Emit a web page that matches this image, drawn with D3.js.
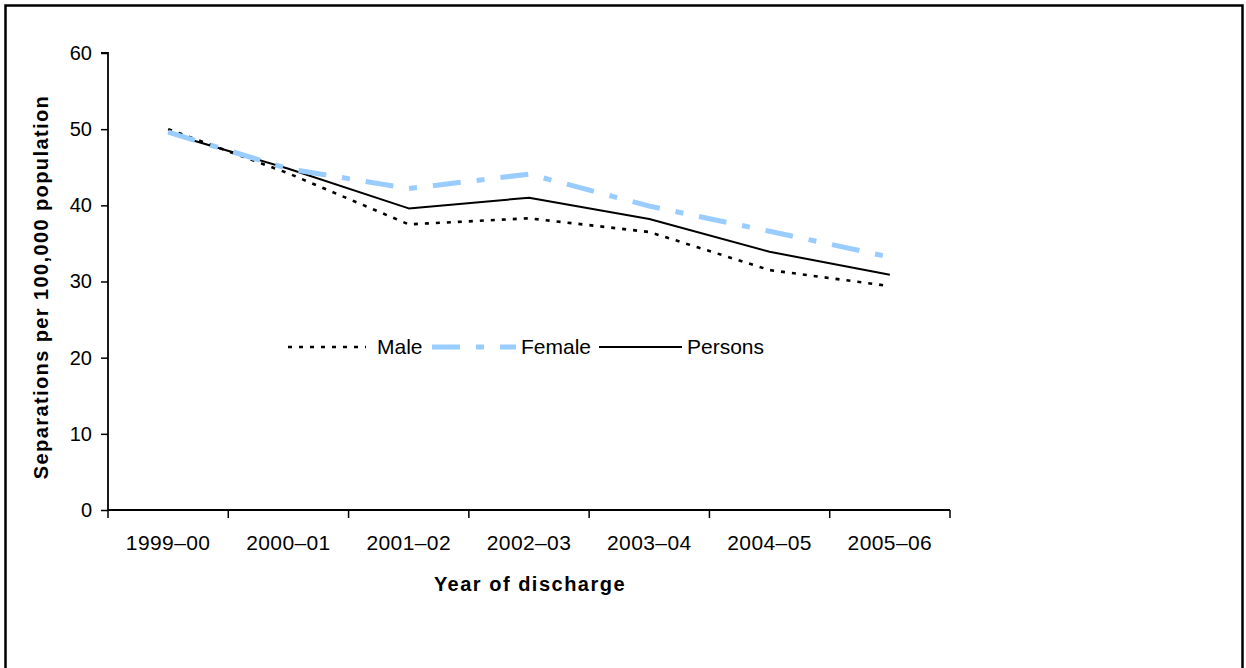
<!DOCTYPE html>
<html>
<head>
<meta charset="utf-8">
<script src="https://cdn.jsdelivr.net/npm/d3@7"></script>
<style>
  html, body { margin: 0; padding: 0; background: #fff; }
  svg { display: block; font-family: Arial, "Liberation Sans", sans-serif; }
</style>
</head>
<body>
<svg id="chart" width="1246" height="668"></svg>
<script>
const categories = ["1999–00", "2000–01", "2001–02", "2002–03", "2003–04", "2004–05", "2005–06"];
const male    = [50.0, 44.2, 37.5, 38.3, 36.5, 31.5, 29.4];
const female  = [49.6, 44.8, 42.2, 44.1, 39.9, 36.6, 33.2];
const persons = [49.5, 44.8, 39.6, 41.0, 38.2, 33.9, 30.9];
const yTicks  = [0, 10, 20, 30, 40, 50, 60];
const seriesNames = ["Male", "Female", "Persons"];

const svg = d3.select("#chart");

// outer frame
svg.append("rect")
  .attr("x", 5.5).attr("y", 5.5).attr("width", 1237).attr("height", 700)
  .attr("fill", "none").attr("stroke", "#000").attr("stroke-width", 2.5);

const x0 = 108, x1 = 950, yTop = 53, yBot = 510;
const x = d3.scaleBand().domain(categories).range([x0, x1]).padding(0);
const y = d3.scaleLinear().domain([0, 60]).range([yBot, yTop]);

// Y axis
const yAxis = svg.append("g")
  .attr("transform", `translate(${x0},0)`)
  .call(d3.axisLeft(y).tickValues(yTicks).tickSize(7).tickPadding(9).tickFormat(d3.format("d")));
yAxis.select(".domain").attr("stroke-width", 1.8).attr("d", `M-7,${yTop}H0V${yBot}`);
yAxis.selectAll(".tick line").attr("stroke-width", 1.5);
yAxis.selectAll(".tick text").attr("font-size", 20).attr("fill", "#000")
  .attr("font-family", "Arial, 'Liberation Sans', sans-serif");

// X axis
const xAxis = svg.append("g")
  .attr("transform", `translate(0,${yBot})`)
  .call(d3.axisBottom(x).tickSize(0).tickPadding(0));
xAxis.select(".domain").attr("stroke-width", 1.8).attr("d", `M${x0},0H${x1}`);
xAxis.selectAll(".tick line").remove();
xAxis.selectAll(".tick text")
  .attr("font-size", 21).attr("fill", "#000").attr("dy", null).attr("y", 40)
  .attr("letter-spacing", 0.4)
  .attr("font-family", "Arial, 'Liberation Sans', sans-serif");
// boundary ticks between categories
const bounds = categories.map(c => x(c)).concat([x1]);
xAxis.selectAll("line.bound").data(bounds).enter().append("line")
  .attr("class", "bound")
  .attr("x1", d => d).attr("x2", d => d).attr("y1", 0).attr("y2", 8)
  .attr("stroke", "#000").attr("stroke-width", 1.5);

// axis titles
svg.append("text")
  .attr("transform", `translate(48,287) rotate(-90)`)
  .attr("text-anchor", "middle")
  .attr("font-size", 20).attr("font-weight", "bold").attr("letter-spacing", 1.4)
  .text("Separations per 100,000 population");

svg.append("text")
  .attr("x", 530).attr("y", 591)
  .attr("text-anchor", "middle")
  .attr("font-size", 20).attr("font-weight", "bold").attr("letter-spacing", 1.5)
  .text("Year of discharge");

// lines
const cx = c => x(c) + x.bandwidth() / 2;
const lineGen = vals => d3.line().x((d, i) => cx(categories[i])).y(d => y(d))(vals);

const styles = {
  Male:    { color: "#000", width: 2.6, dash: "4,7" },
  Female:  { color: "#99CCFF", width: 5, dash: "28,16,8,16" },
  Persons: { color: "#000", width: 2, dash: null }
};
const data = { Male: male, Female: female, Persons: persons };

["Male", "Persons", "Female"].forEach(name => {
  const s = styles[name];
  svg.append("path")
    .attr("d", lineGen(data[name]))
    .attr("fill", "none")
    .attr("stroke", s.color)
    .attr("stroke-width", s.width)
    .attr("stroke-dasharray", s.dash)
    .attr("stroke-linejoin", "round");
});

// legend
const legendY = 347;
const legendItems = [
  { name: "Male", lx1: 288, lx2: 366, tx: 377 },
  { name: "Female", lx1: 432, lx2: 516, tx: 521 },
  { name: "Persons", lx1: 599, lx2: 682, tx: 687 }
];
legendItems.forEach(it => {
  const s = styles[it.name];
  svg.append("line")
    .attr("x1", it.lx1).attr("x2", it.lx2).attr("y1", legendY).attr("y2", legendY)
    .attr("stroke", s.color).attr("stroke-width", s.width)
    .attr("stroke-dasharray", s.dash);
  svg.append("text")
    .attr("x", it.tx).attr("y", legendY + 7)
    .attr("font-size", 21)
    .text(it.name);
});
</script>
</body>
</html>
